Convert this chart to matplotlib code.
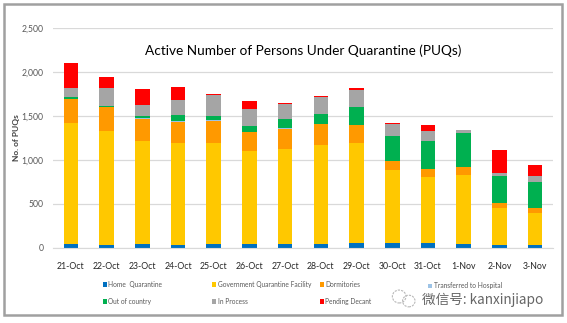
import matplotlib
matplotlib.use('Agg')
import matplotlib.pyplot as plt
import numpy as np
from matplotlib.patches import Rectangle, Ellipse

# Daily counts of persons under quarantine, by category
dates = ['21-Oct', '22-Oct', '23-Oct', '24-Oct', '25-Oct', '26-Oct', '27-Oct',
         '28-Oct', '29-Oct', '30-Oct', '31-Oct', '1-Nov', '2-Nov', '3-Nov']
home = [40, 27, 42, 34, 42, 42, 46, 46, 54, 54, 54, 46, 31, 31]
govt = [1384, 1305, 1168, 1158, 1150, 1062, 1075, 1125, 1138, 833, 745, 784, 426, 365]
dorms = [266, 266, 259, 243, 254, 213, 234, 231, 201, 99, 91, 83, 50, 51]
hospital = [2, 2, 2, 2, 2, 2, 2, 2, 2, 2, 2, 2, 2, 2]
out_country = [25, 18, 32, 78, 55, 67, 109, 123, 208, 279, 326, 391, 306, 295]
in_process = [95, 205, 126, 171, 229, 194, 166, 183, 189, 145, 111, 30, 34, 73]
pending = [288, 114, 179, 145, 15, 95, 16, 15, 20, 11, 72, 0, 266, 129]

series = [
    ('Home  Quarantine', home, '#0070C0'),
    ('Government Quarantine Facility', govt, '#FFC800'),
    ('Dormitories', dorms, '#FF9900'),
    ('Transferred to Hospital', hospital, '#9DC3E6'),
    ('Out of country', out_country, '#00B050'),
    ('In Process', in_process, '#A5A5A5'),
    ('Pending Decant', pending, '#FF0000'),
]

plt.rcParams['font.family'] = ['Lato', 'DejaVu Sans']

fig = plt.figure(figsize=(5.67, 3.23), dpi=100)
ax = fig.add_axes([0.0935, 0.2331, 0.8818, 0.6802])

x = np.arange(len(dates))
bottom = np.zeros(len(dates))
handles = {}
for name, vals, color in series:
    vals = np.array(vals, dtype=float)
    b = ax.bar(x, vals, 0.41, bottom=bottom, color=color, label=name, zorder=3)
    handles[name] = b
    bottom += vals

ax.set_xlim(-0.5, len(dates) - 0.5)
ax.set_ylim(0, 2500)
ax.set_yticks(np.arange(0, 2501, 500))
ax.set_yticklabels([f'{v:,}' for v in range(0, 2501, 500)])
ax.set_xticks(x)
ax.set_xticklabels(dates)
ax.tick_params(axis='y', length=0, labelsize=6.2, labelcolor='#595959', pad=7)
ax.tick_params(axis='x', length=0, labelsize=6.3, labelcolor='#262626', pad=10)
ax.grid(axis='y', color='#D9D9D9', linewidth=0.9, zorder=0)
for side in ['top', 'right', 'left']:
    ax.spines[side].set_visible(False)
ax.spines['bottom'].set_color('#D9D9D9')
ax.spines['bottom'].set_zorder(4)

ax.set_ylabel('No. of PUQs', fontsize=6, fontweight='bold', color='#404040')
ax.yaxis.set_label_coords(-0.066, 0.5)
ax.set_title('Active Number of Persons Under Quarantine (PUQs)',
             fontsize=9.8, color='#000000', y=0.84)

# Legend: four fixed columns, two rows
columns = [
    (0.181, ['Home  Quarantine', 'Out of country']),
    (0.374, ['Government Quarantine Facility', 'In Process']),
    (0.564, ['Dormitories', 'Pending Decant']),
    (0.755, ['Transferred to Hospital']),
]
for col_x, names in columns:
    y_anchor = 0.093 if len(names) == 2 else 0.115
    leg = fig.legend([handles[n] for n in names], names,
                     loc='center left', bbox_to_anchor=(col_x, y_anchor),
                     frameon=False, fontsize=4.8, handlelength=0.6, handleheight=0.65,
                     handletextpad=0.25, labelspacing=1.5,
                     borderpad=0, borderaxespad=0)
    for t in leg.get_texts():
        t.set_color('#595959')

# WeChat style watermark
fig.add_artist(Ellipse((0.704, 0.082), 0.024, 0.04, transform=fig.transFigure,
                       fill=False, edgecolor='#B8B8B8', lw=0.8, ls=(0, (2, 1))))
fig.add_artist(Ellipse((0.721, 0.068), 0.022, 0.036, transform=fig.transFigure,
                       fill=False, edgecolor='#B8B8B8', lw=0.8, ls=(0, (2, 1))))
fig.text(0.745, 0.072, '微信号: kanxinjiapo', fontsize=9.8, color='#666666',
         va='center', ha='left', family=['Noto Sans CJK SC', 'DejaVu Sans'])

# Outer frame
fig.add_artist(Rectangle((0.007, 0.025), 0.984, 0.963, transform=fig.transFigure,
                         fill=False, edgecolor='#A0A0A0', linewidth=1.8))

fig.savefig('out.png', dpi=100)
